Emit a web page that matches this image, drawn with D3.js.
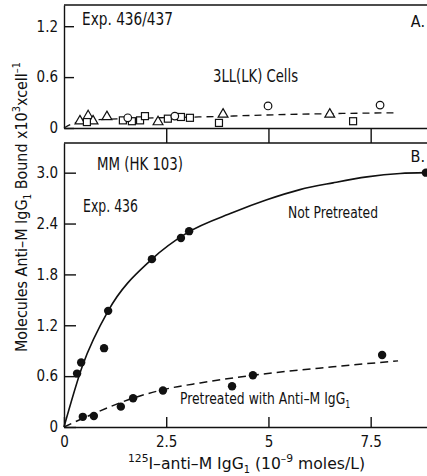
<!DOCTYPE html>
<html>
<head>
<meta charset="utf-8">
<script src="https://cdn.jsdelivr.net/npm/d3@7"></script>
<style>
  body { margin: 0; background: #fff; }
  svg { display: block; }
  text { font-family: "Liberation Sans Narrow", "DejaVu Sans Condensed", "Liberation Sans", sans-serif; fill: #111; }
  .axis path, .axis line { stroke: #111; stroke-width: 1.4; }
  .axis text { font-size: 15px; }
</style>
</head>
<body>
<div id="chart"></div>
<script>
// panel A, 3LL(LK) cells (open symbols)
var cellTriangles = [[0.39, 0.07], [0.59, 0.13], [0.71, 0.07], [1.05, 0.12], [2.30, 0.06], [3.89, 0.15], [6.50, 0.15]];
var cellSquares = [[0.56, 0.07], [1.44, 0.09], [1.66, 0.08], [1.86, 0.09], [1.98, 0.14], [2.54, 0.11], [2.86, 0.13], [3.08, 0.12], [3.79, 0.06], [7.07, 0.08]];
var cellCircles = [[1.56, 0.12], [2.71, 0.14], [4.99, 0.26], [7.73, 0.27]];
var cellLine = [[0, 0], [0.2, 0.05], [0.6, 0.09], [1.5, 0.11], [3.3, 0.13], [5.5, 0.16], [8.15, 0.18]];

// panel B, MM(HK 103) cells
var notPretreated = [[0.32, 0.63], [0.42, 0.76], [0.98, 0.93], [1.08, 1.37], [2.15, 1.98], [2.86, 2.23], [3.06, 2.31], [8.85, 3.0]];
var notPretreatedLine = [[0, 0], [0.45, 0.72], [1.08, 1.37], [2.15, 1.98], [3.01, 2.29], [4.13, 2.53], [4.96, 2.68], [5.77, 2.80], [6.58, 2.88], [7.41, 2.95], [8.22, 2.99], [8.85, 3.0]];
var pretreated = [[0.46, 0.12], [0.73, 0.13], [1.39, 0.24], [1.69, 0.34], [2.42, 0.43], [4.11, 0.48], [4.62, 0.61], [7.78, 0.85]];
var pretreatedLine = [[0, 0], [0.5, 0.11], [1.69, 0.34], [2.42, 0.44], [3.33, 0.52], [4.62, 0.61], [6.58, 0.71], [8.17, 0.78]];

var xTicks = [0, 2.5, 5, 7.5];
var xTickLabels = ["0", "2.5", "5", "7.5"];
var yTicksA = [0, 0.6, 1.2];
var yTicksB = [0, 0.6, 1.2, 1.8, 2.4, 3.0];

var width = 427, height = 476;
var svg = d3.select("#chart").append("svg")
    .attr("width", width)
    .attr("height", height);

var x = d3.scaleLinear().domain([0, 9]).range([64, 432]);
var yA = d3.scaleLinear().domain([0, 1.45]).range([128, 5]);
var yB = d3.scaleLinear().domain([0, 3.35]).range([427, 143]);

var fmt = function (d) { return d === 0 ? "0" : d3.format(".1f")(d); };

// ---- panel A frame and axes
svg.append("g").attr("class", "axis")
    .attr("transform", "translate(" + x(0) + ",0)")
    .call(d3.axisLeft(yA).tickValues(yTicksA).tickFormat(fmt).tickSizeInner(-10).tickSizeOuter(0).tickPadding(6));
svg.append("g").attr("class", "axis")
    .attr("transform", "translate(0," + yA(0) + ")")
    .call(d3.axisBottom(x).tickValues(xTicks.slice(1)).tickFormat("").tickSizeInner(yB.range()[1] - yA(0)).tickSizeOuter(0));
svg.append("line")
    .attr("x1", x(0)).attr("x2", x(9))
    .attr("y1", yA.range()[1]).attr("y2", yA.range()[1])
    .attr("stroke", "#111").attr("stroke-width", 1.4);

// ---- panel B frame and axes
svg.append("g").attr("class", "axis")
    .attr("transform", "translate(" + x(0) + ",0)")
    .call(d3.axisLeft(yB).tickValues(yTicksB).tickFormat(fmt).tickSizeInner(-12).tickSizeOuter(0).tickPadding(6));
var xAxisB = svg.append("g").attr("class", "axis")
    .attr("transform", "translate(0," + yB(0) + ")")
    .call(d3.axisBottom(x).tickValues(xTicks).tickFormat(function (d, i) { return xTickLabels[i]; })
        .tickSizeInner(-10).tickSizeOuter(0).tickPadding(6));
xAxisB.selectAll(".tick text").attr("dy", "0.95em").attr("font-size", 16);
svg.append("line")
    .attr("x1", x(0)).attr("x2", x(9))
    .attr("y1", yB.range()[1]).attr("y2", yB.range()[1])
    .attr("stroke", "#111").attr("stroke-width", 1.4);

// ---- lines
var lineA = d3.line().x(function (d) { return x(d[0]); }).y(function (d) { return yA(d[1]); }).curve(d3.curveMonotoneX);
var lineB = d3.line().x(function (d) { return x(d[0]); }).y(function (d) { return yB(d[1]); }).curve(d3.curveMonotoneX);

svg.append("path").datum(cellLine)
    .attr("d", lineA).attr("fill", "none").attr("stroke", "#111")
    .attr("stroke-width", 1.3).attr("stroke-dasharray", "7,5");
svg.append("path").datum(notPretreatedLine)
    .attr("d", lineB).attr("fill", "none").attr("stroke", "#111").attr("stroke-width", 1.6);
svg.append("path").datum(pretreatedLine)
    .attr("d", lineB).attr("fill", "none").attr("stroke", "#111")
    .attr("stroke-width", 1.5).attr("stroke-dasharray", "8,5");

// ---- markers
var symTri = d3.symbol().type(d3.symbolTriangle).size(42);
svg.append("g").selectAll("path").data(cellTriangles).enter().append("path")
    .attr("d", symTri)
    .attr("transform", function (d) { return "translate(" + x(d[0]) + "," + (yA(d[1]) - 1) + ")"; })
    .attr("fill", "#fff").attr("stroke", "#111").attr("stroke-width", 1.2);
svg.append("g").selectAll("rect").data(cellSquares).enter().append("rect")
    .attr("x", function (d) { return x(d[0]) - 3.5; })
    .attr("y", function (d) { return yA(d[1]) - 3.5; })
    .attr("width", 7).attr("height", 7)
    .attr("fill", "#fff").attr("stroke", "#111").attr("stroke-width", 1.2);
svg.append("g").selectAll("circle").data(cellCircles).enter().append("circle")
    .attr("cx", function (d) { return x(d[0]); })
    .attr("cy", function (d) { return yA(d[1]); })
    .attr("r", 3.8)
    .attr("fill", "#fff").attr("stroke", "#111").attr("stroke-width", 1.2);

svg.append("g").selectAll("circle").data(notPretreated.concat(pretreated)).enter().append("circle")
    .attr("cx", function (d) { return x(d[0]); })
    .attr("cy", function (d) { return yB(d[1]); })
    .attr("r", 4.2)
    .attr("fill", "#111");

// ---- labels (squeezed to the narrow lettering of the original)
function label(txt, px, py, size, len, anchor) {
    var t = svg.append("text").attr("x", px).attr("y", py)
        .attr("font-size", size).attr("text-anchor", anchor || "start").text(txt);
    if (len) t.attr("textLength", len).attr("lengthAdjust", "spacingAndGlyphs");
    return t;
}
label("Exp. 436/437", 82, 25, 17, 91);
label("A.", 425, 27, 16, null, "end");
label("3LL(LK) Cells", 213, 82, 17, 85);
label("MM (HK 103)", 97, 170, 17, 86);
label("Exp. 436", 83, 212, 17, 55);
label("B.", 425, 162, 16, null, "end");
label("Not Pretreated", 288, 218, 16, 90);

var pre = svg.append("text")
    .attr("transform", "translate(180,404) scale(0.86,1)")
    .attr("font-size", 16);
pre.append("tspan").text("Pretreated with Anti\u2013M IgG");
pre.append("tspan").attr("font-size", 10).attr("dy", 4).text("1");

// x axis title
var xt = svg.append("text").attr("x", 128).attr("y", 469).attr("font-size", 16)
    .attr("textLength", 237).attr("lengthAdjust", "spacingAndGlyphs");
xt.append("tspan").attr("font-size", 11).attr("dy", -7).text("125");
xt.append("tspan").attr("dy", 7).text("I\u2013anti\u2013M IgG");
xt.append("tspan").attr("font-size", 10).attr("dy", 4).text("1");
xt.append("tspan").attr("dy", -4).text(" (10");
xt.append("tspan").attr("font-size", 11).attr("dy", -7).text("\u20139");
xt.append("tspan").attr("dy", 7).text(" moles/L)");

// y axis title
var yt = svg.append("text")
    .attr("transform", "translate(27,352) rotate(-90)")
    .attr("font-size", 16)
    .attr("textLength", 290).attr("lengthAdjust", "spacingAndGlyphs");
yt.append("tspan").text("Molecules Anti\u2013M IgG");
yt.append("tspan").attr("font-size", 10).attr("dy", 4).text("1");
yt.append("tspan").attr("dy", -4).text(" Bound x10");
yt.append("tspan").attr("font-size", 11).attr("dy", -7).text("3");
yt.append("tspan").attr("dy", 7).text("xcell");
yt.append("tspan").attr("font-size", 11).attr("dy", -7).text("\u20131");
</script>
</body>
</html>
